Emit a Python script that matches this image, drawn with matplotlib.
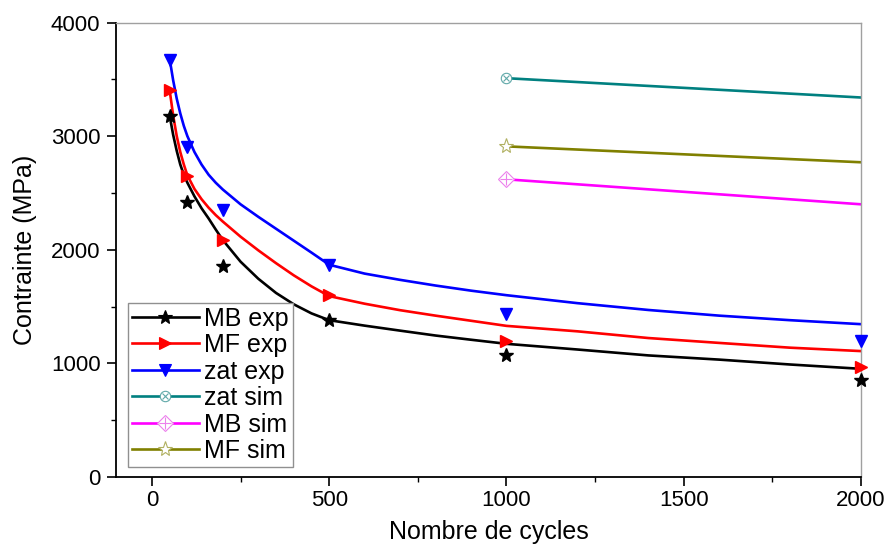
import matplotlib
matplotlib.use("Agg")
import matplotlib.pyplot as plt
from matplotlib.lines import Line2D
from matplotlib.legend_handler import HandlerTuple
from matplotlib.ticker import MultipleLocator

plt.rcParams['font.family'] = ['Liberation Sans', 'DejaVu Sans']

# Measured points (number of cycles, stress in MPa)
cycles = [50, 100, 200, 500, 1000, 2000]
mb_exp = [3174, 2418, 1855, 1380, 1076, 853]
mf_exp = [3402, 2646, 2083, 1600, 1200, 972]
zat_exp = [3666, 2906, 2347, 1866, 1432, 1200]

# Fitted trend curves through the experimental data
fit_cycles = [50, 60, 70, 80, 90, 100, 120, 140, 160, 180, 200, 250, 300,
              350, 400, 450, 500, 600, 700, 800, 900, 1000, 1200, 1400,
              1600, 1800, 2000]
mb_fit = [3180, 3010, 2870, 2750, 2660, 2590, 2470, 2365, 2275, 2178, 2085,
          1895, 1745, 1620, 1520, 1440, 1380, 1332, 1288, 1245, 1208, 1172,
          1122, 1070, 1033, 990, 952]
mf_fit = [3405, 3180, 3000, 2860, 2750, 2655, 2535, 2445, 2370, 2305, 2248,
          2115, 1995, 1882, 1775, 1678, 1592, 1525, 1468, 1420, 1375, 1330,
          1282, 1223, 1180, 1138, 1108]
zat_fit = [3680, 3490, 3330, 3200, 3090, 3000, 2860, 2750, 2660, 2590, 2530,
           2400, 2290, 2185, 2080, 1975, 1868, 1790, 1735, 1685, 1640, 1600,
           1530, 1470, 1420, 1380, 1345]

# Simulation results
sim_cycles = [1000, 2000]
zat_sim = [3510, 3340]
mb_sim = [2620, 2400]
mf_sim = [2910, 2770]

C_MB, C_MF, C_ZAT = '#000000', '#ff0000', '#0000ff'
C_ZS, C_MBS, C_MFS = '#008080', '#ff00ff', '#808000'
E_ZS, E_MBS, E_MFS = '#5fa8a8', '#ec80ec', '#b0b060'
LW = 1.9

fig = plt.figure(figsize=(8.87, 5.44), dpi=100)
ax = fig.add_axes([0.1313, 0.1232, 0.8394, 0.8354])

# fitted curves
ax.plot(fit_cycles, mb_fit, color=C_MB, lw=LW, zorder=2)
ax.plot(fit_cycles, mf_fit, color=C_MF, lw=LW, zorder=2)
ax.plot(fit_cycles, zat_fit, color=C_ZAT, lw=LW, zorder=2)

# experimental markers
ax.plot(cycles, mb_exp, ls='none', marker='*', ms=10, color=C_MB, zorder=3, clip_on=False)
ax.plot(cycles, mf_exp, ls='none', marker='>', ms=9, color=C_MF, zorder=3, clip_on=False)
ax.plot(cycles, zat_exp, ls='none', marker='v', ms=9, color=C_ZAT, zorder=3, clip_on=False)

# simulation lines with an open symbol at the first point
ax.plot(sim_cycles, zat_sim, color=C_ZS, lw=LW, zorder=2)
ax.plot(sim_cycles[:1], zat_sim[:1], ls='none', marker='o', ms=7.5, mfc='white',
        mec=E_ZS, mew=0.8, zorder=3)
ax.plot(sim_cycles[:1], zat_sim[:1], ls='none', marker='x', ms=5, mec=E_ZS, mew=0.8, zorder=4)
ax.plot(sim_cycles, mb_sim, color=C_MBS, lw=LW, zorder=2)
ax.plot(sim_cycles[:1], mb_sim[:1], ls='none', marker='D', ms=8, mfc='white',
        mec=E_MBS, mew=0.8, zorder=3)
ax.plot(sim_cycles[:1], mb_sim[:1], ls='none', marker='+', ms=8, mec=E_MBS, mew=0.8, zorder=4)
ax.plot(sim_cycles, mf_sim, color=C_MFS, lw=LW, zorder=2)
ax.plot(sim_cycles[:1], mf_sim[:1], ls='none', marker='*', ms=11, mfc='white',
        mec=E_MFS, mew=0.8, zorder=3)

ax.set_xlim(-100, 2000)
ax.set_ylim(0, 4000)
ax.xaxis.set_major_locator(MultipleLocator(500))
ax.xaxis.set_minor_locator(MultipleLocator(250))
ax.yaxis.set_major_locator(MultipleLocator(1000))
ax.yaxis.set_minor_locator(MultipleLocator(500))
ax.tick_params(which='major', direction='out', length=6.5, width=1.2, labelsize=16)
ax.tick_params(which='minor', direction='out', length=3.6, width=1.0)
ax.tick_params(axis='x', which='major', pad=3)
ax.tick_params(axis='y', which='major', pad=5)
ax.tick_params(top=False, right=False)
for s in ('left', 'bottom'):
    ax.spines[s].set_linewidth(1.3)
for s in ('top', 'right'):
    ax.spines[s].set_color('#a0a0a0')
    ax.spines[s].set_linewidth(1.0)

ax.set_xlabel('Nombre de cycles', fontsize=18, labelpad=6)
ax.set_ylabel('Contrainte (MPa)', fontsize=18, labelpad=10)


def entry(color, marker, ms, mfc=None, mec=None):
    return Line2D([], [], color=color, lw=LW, marker=marker, ms=ms,
                  mfc=mfc if mfc else color, mec=mec if mec else color, mew=0.8)


handles = [
    entry(C_MB, '*', 10),
    entry(C_MF, '>', 9),
    entry(C_ZAT, 'v', 9),
    (entry(C_ZS, 'o', 7.5, 'white', E_ZS),
     Line2D([], [], ls='none', marker='x', ms=5, mec=E_ZS, mew=0.8)),
    (entry(C_MBS, 'D', 8, 'white', E_MBS),
     Line2D([], [], ls='none', marker='+', ms=8, mec=E_MBS, mew=0.8)),
    entry(C_MFS, '*', 11, 'white', E_MFS),
]
labels = ['MB exp', 'MF exp', 'zat exp', 'zat sim', 'MB sim', 'MF sim']
leg = ax.legend(handles, labels, loc='lower left', bbox_to_anchor=(0.0154, 0.022),
                borderaxespad=0, fontsize=18, handlelength=2.7, handletextpad=0.2,
                labelspacing=0.1, borderpad=0.15, fancybox=False, framealpha=1,
                edgecolor='#909090', numpoints=1,
                handler_map={tuple: HandlerTuple(ndivide=1)})
leg.get_frame().set_linewidth(1.0)

fig.savefig('out.png', dpi=100)
